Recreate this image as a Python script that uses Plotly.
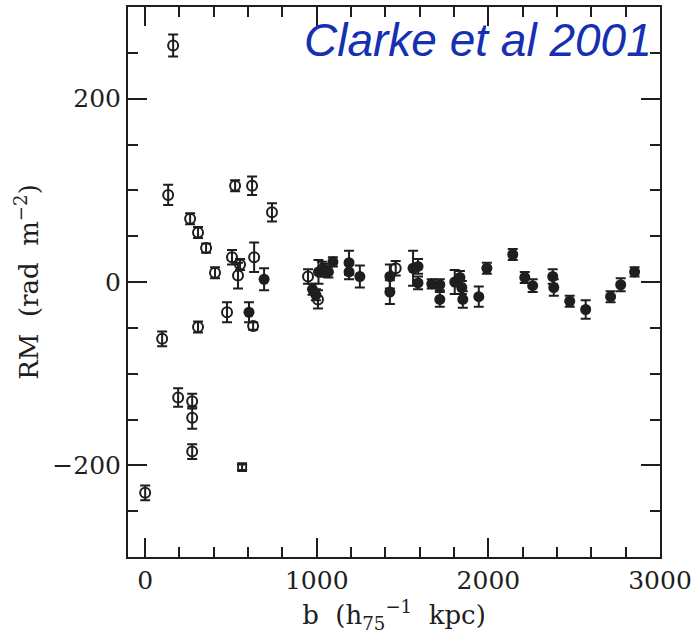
import plotly.graph_objects as go

# open circles: b (kpc), RM, error
b_open = [0, 99, 134, 163, 192, 262, 274, 274, 274, 308, 308, 355, 407, 477, 506,
          524, 541, 553, 623, 629, 635, 739, 949, 1007, 1048, 1460]
rm_open = [-230, -62, 95, 258, -126, 69, -130, -148, -185, 54, -49, 37, 10, -33, 27,
           105, 7, 19, 105, -48, 27, 76, 6, -19, 13, 15]
err_open = [8, 8, 11, 12, 10, 6, 8, 12, 8, 6, 6, 5, 6, 11, 8,
            6, 14, 6, 10, 4, 16, 10, 8, 10, 7, 8]

# open square
b_sq = [565]
rm_sq = [-202]
err_sq = [3]

# filled circles
b_fill = [605, 693, 975, 995, 1010, 1030, 1068, 1094, 1188, 1188, 1251, 1426, 1426,
          1561, 1590, 1590, 1670, 1717, 1717, 1804, 1834, 1845, 1851, 1944, 1991,
          2142, 2212, 2258, 2375, 2381, 2474, 2567, 2712, 2771, 2852]
rm_fill = [-33, 3, -8, -14, 11, 14, 11, 22, 21, 11, 6, 6, -11,
           15, 17, -1, -2, -3, -19, 0, 5, -6, -19, -16, 15,
           30, 5, -4, 6, -6, -21, -30, -16, -3, 11]
err_fill = [11, 12, 6, 6, 13, 8, 6, 5, 13, 8, 12, 13, 13,
            19, 8, 7, 5, 6, 8, 13, 7, 7, 9, 11, 6,
            6, 6, 7, 8, 9, 6, 10, 6, 7, 5]

x_ticks = [0, 1000, 2000, 3000]
y_ticks = [-200, 0, 200]
y_labels = ["\u2212200", "0", "200"]

ink = "#1e1e1e"
err_style = dict(type="data", visible=True, color=ink, thickness=2, width=5)

fig = go.Figure()

fig.add_trace(go.Scatter(
    x=b_open, y=rm_open, mode="markers",
    error_y=dict(array=err_open, **err_style),
    marker=dict(symbol="circle-open", size=10, color=ink, line=dict(width=2, color=ink)),
    showlegend=False
))

fig.add_trace(go.Scatter(
    x=b_sq, y=rm_sq, mode="markers",
    error_y=dict(array=err_sq, **err_style),
    marker=dict(symbol="square-open", size=8, color=ink, line=dict(width=1.8, color=ink)),
    showlegend=False
))

fig.add_trace(go.Scatter(
    x=b_fill, y=rm_fill, mode="markers",
    error_y=dict(array=err_fill, **err_style),
    marker=dict(symbol="circle", size=11, color=ink),
    showlegend=False
))

fig.add_annotation(
    text="<i>Clarke et al 2001</i>",
    xref="paper", yref="paper", x=0.988, y=0.94,
    xanchor="right", yanchor="middle", showarrow=False,
    font=dict(family="Liberation Sans, Arial", size=46, color="#1530b0")
)

axis_common = dict(
    showline=True, linecolor=ink, linewidth=2, mirror="allticks",
    ticks="inside", ticklen=19, tickwidth=1.5, tickcolor=ink,
    showgrid=False, zeroline=False, automargin=False,
    tickfont=dict(family="DejaVu Serif", size=25, color=ink),
)

fig.update_xaxes(
    range=[-100, 3000], tickvals=x_ticks, ticktext=[str(v) for v in x_ticks],
    minor=dict(dtick=200, tick0=0, ticks="inside", ticklen=10, tickwidth=1.5, tickcolor=ink),
    title=dict(text="b  (h<sub>75</sub><sup>\u22121</sup>  kpc)", standoff=12,
               font=dict(family="DejaVu Serif", size=26, color=ink)),
    **axis_common
)
fig.update_yaxes(
    range=[-300, 300], tickvals=y_ticks, ticktext=y_labels,
    minor=dict(dtick=50, tick0=0, ticks="inside", ticklen=10, tickwidth=1.5, tickcolor=ink),
    title=dict(text="RM  (rad  m<sup>\u22122</sup>)", standoff=6,
               font=dict(family="DejaVu Serif", size=26, color=ink)),
    **axis_common
)

fig.update_layout(
    width=698, height=643,
    margin=dict(l=128, r=38, t=7, b=86),
    paper_bgcolor="white", plot_bgcolor="white",
)

# page body has a default 8px margin; drop it so the figure sits at the corner
fig.write_html("out.html", config={"displayModeBar": False},
               post_script="document.body.style.margin='0';")
